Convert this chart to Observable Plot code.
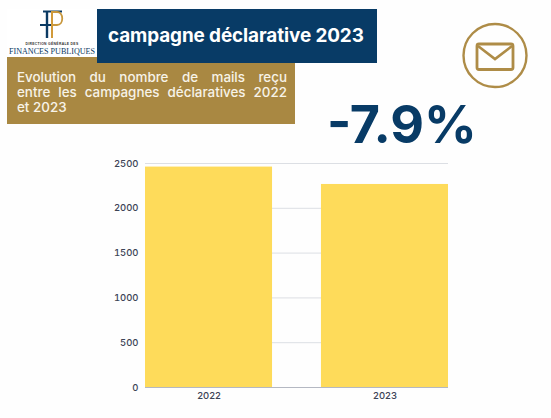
<!DOCTYPE html>
<html lang="fr">
<head>
<meta charset="utf-8">
<script src="https://cdn.jsdelivr.net/npm/d3@7"></script>
<script src="https://cdn.jsdelivr.net/npm/@observablehq/plot@0.6"></script>
<style>
html,body{margin:0;padding:0;background:#fefefe;width:551px;height:418px;overflow:hidden}
#page{position:relative;width:551px;height:418px;font-family:Inter,sans-serif}
#chart{position:absolute;left:0;top:0}
#chart svg{display:block;background:transparent}
.abs{position:absolute;white-space:nowrap}
#logo{left:7px;top:9px;width:90px;height:48px;background:#fff}
#mono{left:38px;top:8px}
#logoSmall{left:7px;top:41.5px;width:90px;text-align:center;font:700 3.4px/4px "Liberation Sans",sans-serif;letter-spacing:.3px;color:#333}
#logoName{left:7px;top:46.5px;width:90px;text-align:center;font:400 8.1px/10px "Liberation Serif",serif;color:#0b3a63}
#banner{left:97px;top:9px;width:280px;height:54px;background:#083b66}
#bannerText{left:108px;top:24px;font-weight:700;font-size:18.9px;line-height:24px;color:#fff;letter-spacing:-.1px}
#gold{left:7px;top:57px;width:288px;height:67px;background:#a98842}
#goldText{left:17px;top:70px;width:270px;font:500 13.4px/15px Inter,sans-serif;color:#f7f3e8}
#goldText div{text-align:justify;text-align-last:justify;white-space:normal}
#goldText div:last-child{text-align-last:left}
#pct{left:327px;top:92px;font-weight:700;font-size:52px;line-height:66px;color:#083b66}
#icon{left:461px;top:21px}
</style>
</head>
<body>
<div id="page">
<div id="chart" class="abs"></div>
<div id="logo" class="abs"></div>
<svg id="mono" class="abs" width="30" height="34" viewBox="0 0 30 34" fill="none" stroke-linecap="butt">
<path d="M5 3.5 H24" stroke="#0b3a63" stroke-width="2"/>
<path d="M9 3 V30" stroke="#0b3a63" stroke-width="2.4"/>
<path d="M2 17 H13" stroke="#0b3a63" stroke-width="2"/>
<path d="M14 3 V30" stroke="#d19a3a" stroke-width="2"/>
<path d="M14 4 H19 C26 4 26 17 19 17 H15" stroke="#c8973c" stroke-width="1.8"/>
</svg>
<div id="logoSmall" class="abs">DIRECTION GÉNÉRALE DES</div>
<div id="logoName" class="abs">FINANCES PUBLIQUES</div>
<div id="gold" class="abs"></div>
<div id="banner" class="abs"></div>
<div id="bannerText" class="abs">campagne déclarative 2023</div>
<div id="goldText" class="abs"><div>Evolution du nombre de mails reçu</div><div>entre les campagnes déclaratives 2022</div><div>et 2023</div></div>
<div id="pct" class="abs">-7.9%</div>
<svg id="icon" class="abs" width="68" height="70" viewBox="0 0 68 70" fill="none" stroke="#ae8c47">
<circle cx="34" cy="34.5" r="31.5" stroke-width="2.4"/>
<rect x="16" y="23" width="36" height="25.5" rx="2" stroke-width="2.8"/>
<path d="M17 25 L34 38 L51 25" stroke-width="2.6"/>
</svg>
</div>
<script>
const years = ["2022", "2023"];
const mails = [2460, 2266];
const yTicks = [0, 500, 1000, 1500, 2000, 2500];
const rows = years.map((year, i) => ({year, value: mails[i]}));

const plot = Plot.plot({
  width: 551,
  height: 418,
  marginLeft: 145,
  marginRight: 103,
  marginTop: 163,
  marginBottom: 31,
  style: {background: "transparent", fontFamily: "Inter, sans-serif", fontSize: "9.5px", fontWeight: 500, color: "#3c4456", overflow: "visible"},
  x: {domain: years, paddingInner: 0.278, paddingOuter: 0, round: false, label: null, tickSize: 0, tickPadding: 5},
  y: {domain: [0, 2500], ticks: yTicks, label: null, tickSize: 0, tickPadding: 7, tickFormat: d => String(d)},
  marks: [
    Plot.gridY(yTicks, {stroke: "#dcdfe4", strokeOpacity: 1, strokeWidth: 1}),
    Plot.barY(rows, {x: "year", y: "value", fill: "#fedb5a"}),
    Plot.ruleY([0], {stroke: "#b4b8c2", strokeWidth: 1})
  ]
});
document.getElementById("chart").appendChild(plot);
</script>
</body>
</html>
